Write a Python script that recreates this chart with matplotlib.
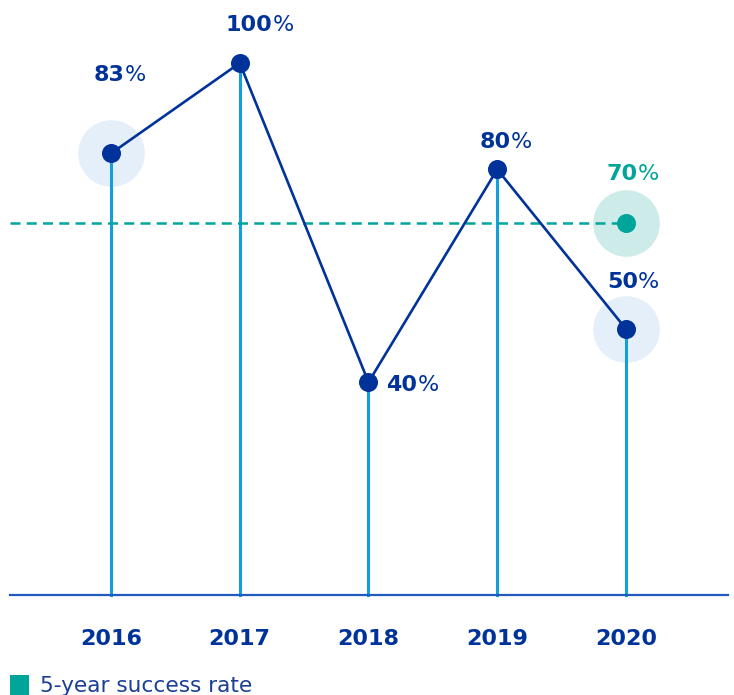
#!/usr/bin/env python3
"""Lollipop-style line chart of yearly success rate vs 5-year success rate."""

import matplotlib.pyplot as plt
from matplotlib.patches import Rectangle

years = [2016, 2017, 2018, 2019, 2020]
rates = [83, 100, 40, 80, 50]
target = 70
target_year = 2020
halo_years = [2016, 2020]
legend_label = "5-year success rate"

# label offsets in pixels (dx, dy) from each point, anchor = end of the digits
label_offsets = [(14, 72), (33, 32), (49, -9), (14, 21), (12, 41)]
target_offset = (12, 43)

NAVY = "#00339a"
STEM = "#119fdd"
HALO = "#e5eff9"
TEAL = "#00a59a"
TEAL_HALO = "#cdece9"
BASE = "#1f5bbf"

W, H = 734, 695
fig = plt.figure(figsize=(W / 100, H / 100), dpi=100)
px_per_unit = 5.32
x0 = 2016 - 101 / 128.75
x1 = 2020 + 102 / 128.75
ax = fig.add_axes([10 / W, (H - 595) / H, 718 / W, 595 / H])
ax.set_xlim(x0, x1)
ax.set_ylim(0, 595 / px_per_unit)
ax.axis("off")

# baseline
ax.plot([x0, x1], [0, 0], color=BASE, lw=1.6, clip_on=False, zorder=2)

# stems
for yr, r in zip(years, rates):
    ax.plot([yr, yr], [0, r], color=STEM, lw=2.2, zorder=1, clip_on=False)

# halos
for yr, r in zip(years, rates):
    if yr in halo_years:
        ax.scatter(yr, r, s=48 ** 2, color=HALO, zorder=0, linewidths=0, clip_on=False)
ax.scatter(target_year, target, s=48 ** 2, color=TEAL_HALO, zorder=0, linewidths=0, clip_on=False)

# target dashed line
ax.plot([x0, target_year], [target, target], color=TEAL, lw=1.8,
        dashes=(4, 2.5), zorder=3, clip_on=False)
ax.scatter(target_year, target, s=13.7 ** 2, color=TEAL, zorder=5, linewidths=0, clip_on=False)

# main line
ax.plot(years, rates, color=NAVY, lw=1.9, zorder=4, clip_on=False)
ax.scatter(years, rates, s=13.7 ** 2, color=NAVY, zorder=5, linewidths=0, clip_on=False)


def pct_label(x, y, value, offset, color):
    dx, dy = offset
    ax.annotate(f"{value}", (x, y), xytext=(dx, dy), textcoords="offset pixels",
                ha="right", va="baseline", fontsize=16, fontweight="bold", color=color)
    ax.annotate("%", (x, y), xytext=(dx, dy), textcoords="offset pixels",
                ha="left", va="baseline", fontsize=16, color=color)


for yr, r, off in zip(years, rates, label_offsets):
    pct_label(yr, r, r, off, NAVY)
pct_label(target_year, target, target, target_offset, TEAL)

# year labels
for yr in years:
    ax.annotate(str(yr), (yr, 0), xytext=(0, -50), textcoords="offset pixels",
                ha="center", va="baseline", fontsize=16, fontweight="bold", color=NAVY)

# legend
fig.patches.append(Rectangle((10 / W, 0), 19 / W, 20 / H, transform=fig.transFigure,
                             color=TEAL, linewidth=0))
fig.text(40 / W, 3 / H, legend_label, fontsize=15.6, color="#1a3f96", va="baseline")

fig.savefig("out.png", dpi=100)
